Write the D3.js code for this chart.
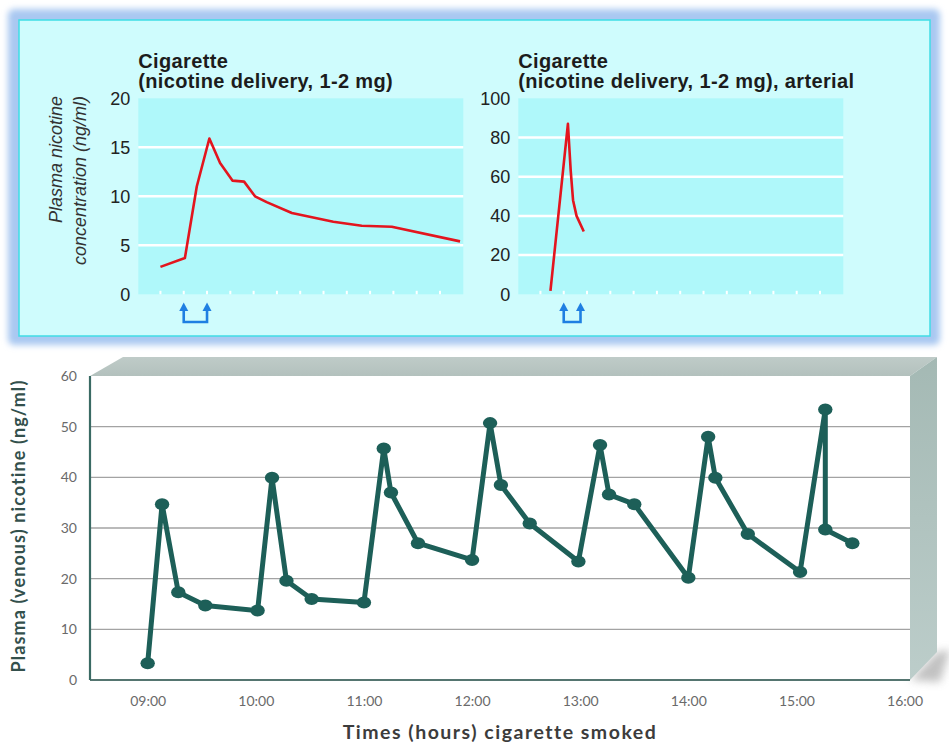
<!DOCTYPE html>
<html>
<head>
<meta charset="utf-8">
<script src="https://cdn.jsdelivr.net/npm/d3@7"></script>
<style>
  body { margin: 0; background: #ffffff; }
  svg { display: block; }
</style>
</head>
<body>
<svg id="chart" width="949" height="745"></svg>
<script>
// ---- Data -------------------------------------------------------------
// Single cigarette, venous plasma nicotine (ng/ml) against time units
const venousTime = [0, 1.05, 1.56, 2.1, 2.56, 3.09, 3.59, 4.06, 4.56, 5.64, 7.42, 8.64, 9.93, 12.86];
const venousConc = [2.8, 3.7, 11.0, 15.9, 13.4, 11.6, 11.5, 10.0, 9.4, 8.3, 7.4, 7.0, 6.9, 5.4];
const venousSmoke = [1, 2];          // start / end of smoking (arrows)
const venousTicks = [0, 5, 10, 15, 20];

// Single cigarette, arterial plasma nicotine (ng/ml)
const arterialTime = [0.43, 1.18, 1.3, 1.4, 1.55, 1.86];
const arterialConc = [1.8, 87, 63, 48, 40, 32];
const arterialSmoke = [1, 1.72];
const arterialTicks = [0, 20, 40, 60, 80, 100];

const timeSteps = d3.range(0, 13);   // minor tick positions along the time axis

// Repeated smoking over the day, venous plasma nicotine (ng/ml)
const dayTimes = ["09:00","09:08","09:17","09:32","10:01","10:09","10:17","10:31",
                  "11:00","11:11","11:15","11:30","12:00","12:10","12:16","12:32",
                  "12:59","13:11","13:16","13:30","14:00","14:11","14:15","14:33",
                  "15:02","15:16","15:16","15:31"];
const dayConc  = [3.3, 34.7, 17.3, 14.7, 13.7, 39.9, 19.6, 16.0,
                  15.3, 45.7, 37.0, 27.0, 23.7, 50.7, 38.5, 30.9,
                  23.4, 46.4, 36.6, 34.7, 20.2, 48.0, 39.9, 28.8,
                  21.3, 53.4, 29.7, 27.0];
const dayTickLabels = ["09:00","10:00","11:00","12:00","13:00","14:00","15:00","16:00"];
const dayYTicks = [0, 10, 20, 30, 40, 50, 60];

// ---- Setup ------------------------------------------------------------
const svg = d3.select("#chart");
const defs = svg.append("defs");

defs.append("filter").attr("id", "soft").attr("x", "-5%").attr("y", "-5%")
  .attr("width", "110%").attr("height", "110%")
  .append("feGaussianBlur").attr("stdDeviation", 3);

defs.append("filter").attr("id", "shadow").attr("x", "-50%").attr("y", "-50%")
  .attr("width", "200%").attr("height", "200%")
  .append("feGaussianBlur").attr("stdDeviation", 4);

const sideGrad = defs.append("linearGradient").attr("id", "sideGrad")
  .attr("x1", 0).attr("y1", 0).attr("x2", 0).attr("y2", 1);
sideGrad.append("stop").attr("offset", "0%").attr("stop-color", "#a4b9b4");
sideGrad.append("stop").attr("offset", "100%").attr("stop-color", "#bccdca");

const topGrad = defs.append("linearGradient").attr("id", "topGrad")
  .attr("x1", 0).attr("y1", 0).attr("x2", 0).attr("y2", 1);
topGrad.append("stop").attr("offset", "0%").attr("stop-color", "#bfcbc8");
topGrad.append("stop").attr("offset", "100%").attr("stop-color", "#b3c1bd");

// ---- Upper panel frame -------------------------------------------------
svg.append("rect")
  .attr("x", 8).attr("y", 9).attr("width", 932).attr("height", 336).attr("rx", 6)
  .attr("fill", "#a9c8f1").attr("filter", "url(#soft)");
svg.append("rect")
  .attr("x", 19).attr("y", 20).attr("width", 911).attr("height", 316)
  .attr("fill", "#cffcfd").attr("stroke", "#3fdde5").attr("stroke-width", 1.5);

// ---- Small single-cigarette charts --------------------------------------
function smallChart(opts) {
  const g = svg.append("g");
  const x = d3.scaleLinear().domain([-0.95, 13]).range([opts.left, opts.left + 325]);
  const y = d3.scaleLinear().domain([0, opts.max]).range([294.3, 98.3]);

  g.append("rect")
    .attr("x", opts.left).attr("y", y(opts.max))
    .attr("width", 325).attr("height", y(0) - y(opts.max))
    .attr("fill", "#aff8fa");

  // white grid lines
  g.selectAll("line.grid").data(opts.ticks.filter(d => d > 0 && d < opts.max))
    .join("line").attr("class", "grid")
    .attr("x1", opts.left).attr("x2", opts.left + 325)
    .attr("y1", d => y(d)).attr("y2", d => y(d))
    .attr("stroke", "#ffffff").attr("stroke-width", 2.5);

  // small white marks along the time axis
  g.selectAll("rect.step").data(timeSteps)
    .join("rect").attr("class", "step")
    .attr("x", d => x(d) - 1).attr("y", y(0) - 3.5)
    .attr("width", 2).attr("height", 3.5)
    .attr("fill", "#ffffff");

  // value axis
  const ax = g.append("g")
    .attr("transform", `translate(${opts.left - 8},0)`)
    .call(d3.axisLeft(y).tickValues(opts.ticks).tickSize(0).tickPadding(0));
  ax.select(".domain").remove();
  ax.selectAll("text")
    .attr("font-family", "'Liberation Sans', Arial, sans-serif")
    .attr("font-size", 18).attr("fill", "#222");

  // titles
  const t = g.append("text")
    .attr("font-family", "'Liberation Sans', Arial, sans-serif")
    .attr("font-weight", "bold").attr("font-size", 20)
    .attr("letter-spacing", 0.35).attr("fill", "#1c1c1c");
  t.append("tspan").attr("x", opts.left).attr("y", 68).text(opts.title[0]);
  t.append("tspan").attr("x", opts.left).attr("y", 88).text(opts.title[1]);

  // concentration curve
  const pts = opts.time.map((d, i) => [d, opts.conc[i]]);
  g.append("path")
    .datum(pts)
    .attr("d", d3.line().x(d => x(d[0])).y(d => y(d[1])))
    .attr("fill", "none").attr("stroke", "#e3151e")
    .attr("stroke-width", 2.6).attr("stroke-linejoin", "round");

  // smoking start/end arrows joined at the bottom
  const a0 = x(opts.smoke[0]), a1 = x(opts.smoke[1]);
  g.append("path")
    .attr("d", `M${a0},309 L${a0},322 L${a1},322 L${a1},309`)
    .attr("fill", "none").attr("stroke", "#1f7fe2").attr("stroke-width", 2.6);
  opts.smoke.forEach(s => {
    const ax0 = x(s);
    g.append("path")
      .attr("d", `M${ax0 - 4.5},311 L${ax0},302.5 L${ax0 + 4.5},311 Z`)
      .attr("fill", "#1f7fe2");
  });
  return g;
}

smallChart({
  left: 138.3, max: 20, ticks: venousTicks,
  time: venousTime, conc: venousConc, smoke: venousSmoke,
  title: ["Cigarette", "(nicotine delivery, 1-2 mg)"]
});
smallChart({
  left: 518.3, max: 100, ticks: arterialTicks,
  time: arterialTime, conc: arterialConc, smoke: arterialSmoke,
  title: ["Cigarette", "(nicotine delivery, 1-2 mg), arterial"]
});

// y-axis title of the venous chart
const yt = svg.append("g")
  .attr("font-family", "'Liberation Sans', Arial, sans-serif")
  .attr("font-style", "italic").attr("font-size", 18).attr("fill", "#333");
yt.append("text").attr("transform", "translate(62,96) rotate(-90)")
  .attr("text-anchor", "end").text("Plasma nicotine");
yt.append("text").attr("transform", "translate(86,96) rotate(-90)")
  .attr("text-anchor", "end").text("concentration (ng/ml)");

// ---- Lower chart: nicotine over a day of smoking ------------------------
const L = 90, R = 910, T = 376, B = 680, DX = 27, DY = 19;
const parseT = d3.timeParse("%H:%M");
const xT = d3.scaleTime().domain([parseT("08:28"), parseT("16:03")]).range([L, R]);
const yB = d3.scaleLinear().domain([0, 60]).range([B, T]);

// soft shadow at the lower right of the box
svg.append("path")
  .attr("d", `M${R},${B} L${R + DX},${B - 28} L${R + 40},${B - 30} L${R + 30},${B + 2} Z`)
  .attr("fill", "#a8a8a8").attr("opacity", 0.7).attr("filter", "url(#shadow)");

// box faces
svg.append("path")
  .attr("d", `M${L},${T} L${L + DX + 6},${T - DY} L${R + DX},${T - DY} L${R},${T} Z`)
  .attr("fill", "url(#topGrad)");
svg.append("path")
  .attr("d", `M${R},${T} L${R + DX},${T - DY} L${R + DX},${B - 28} L${R},${B} Z`)
  .attr("fill", "url(#sideGrad)");
svg.append("rect")
  .attr("x", L).attr("y", T).attr("width", R - L).attr("height", B - T)
  .attr("fill", "#ffffff");

// grid
svg.append("g").selectAll("line").data(dayYTicks.filter(d => d > 0 && d < 60))
  .join("line")
  .attr("x1", L).attr("x2", R)
  .attr("y1", d => yB(d)).attr("y2", d => yB(d))
  .attr("stroke", "#a3a3a3").attr("stroke-width", 1.3);

// axes lines
svg.append("line").attr("x1", L).attr("x2", R).attr("y1", B).attr("y2", B)
  .attr("stroke", "#557570").attr("stroke-width", 2.2);
svg.append("line").attr("x1", L).attr("x2", L).attr("y1", T).attr("y2", B)
  .attr("stroke", "#3a6a64").attr("stroke-width", 2.2);

// y ticks
const yAx = svg.append("g").attr("transform", `translate(${L - 13},0)`)
  .call(d3.axisLeft(yB).tickValues(dayYTicks).tickSize(0).tickPadding(0));
yAx.select(".domain").remove();
yAx.selectAll("text")
  .attr("font-family", "Lato, 'Open Sans', sans-serif")
  .attr("font-size", 14).attr("fill", "#6a6a6a");

// x ticks
const xAx = svg.append("g").attr("transform", `translate(0,${B})`)
  .call(d3.axisBottom(xT).tickValues(dayTickLabels.map(parseT))
    .tickFormat(d3.timeFormat("%H:%M")).tickSize(0).tickPadding(16));
xAx.select(".domain").remove();
xAx.selectAll("text")
  .attr("font-family", "Lato, 'Open Sans', sans-serif")
  .attr("font-size", 14).attr("fill", "#6a6a6a");

// series
const dayPts = dayTimes.map((d, i) => [parseT(d), dayConc[i]]);
svg.append("path").datum(dayPts)
  .attr("d", d3.line().x(d => xT(d[0])).y(d => yB(d[1])))
  .attr("fill", "none").attr("stroke", "#1d5f58")
  .attr("stroke-width", 5).attr("stroke-linejoin", "round");
svg.append("g").selectAll("ellipse").data(dayPts).join("ellipse")
  .attr("cx", d => xT(d[0])).attr("cy", d => yB(d[1]))
  .attr("rx", 7.2).attr("ry", 6)
  .attr("fill", "#1d5f58");

// titles
svg.append("text")
  .attr("x", 500).attr("y", 739).attr("text-anchor", "middle")
  .attr("font-family", "Lato, 'Open Sans', sans-serif")
  .attr("font-weight", "bold").attr("font-size", 19.5).attr("letter-spacing", 1.5)
  .attr("fill", "#3c3c3c")
  .text("Times (hours) cigarette smoked");
svg.append("text")
  .attr("transform", "translate(25,526) rotate(-90)").attr("text-anchor", "middle")
  .attr("font-family", "Lato, 'Open Sans', sans-serif")
  .attr("font-weight", "bold").attr("font-size", 18).attr("letter-spacing", 1.1)
  .attr("fill", "#33504c")
  .text("Plasma (venous) nicotine (ng/ml)");
</script>
</body>
</html>
